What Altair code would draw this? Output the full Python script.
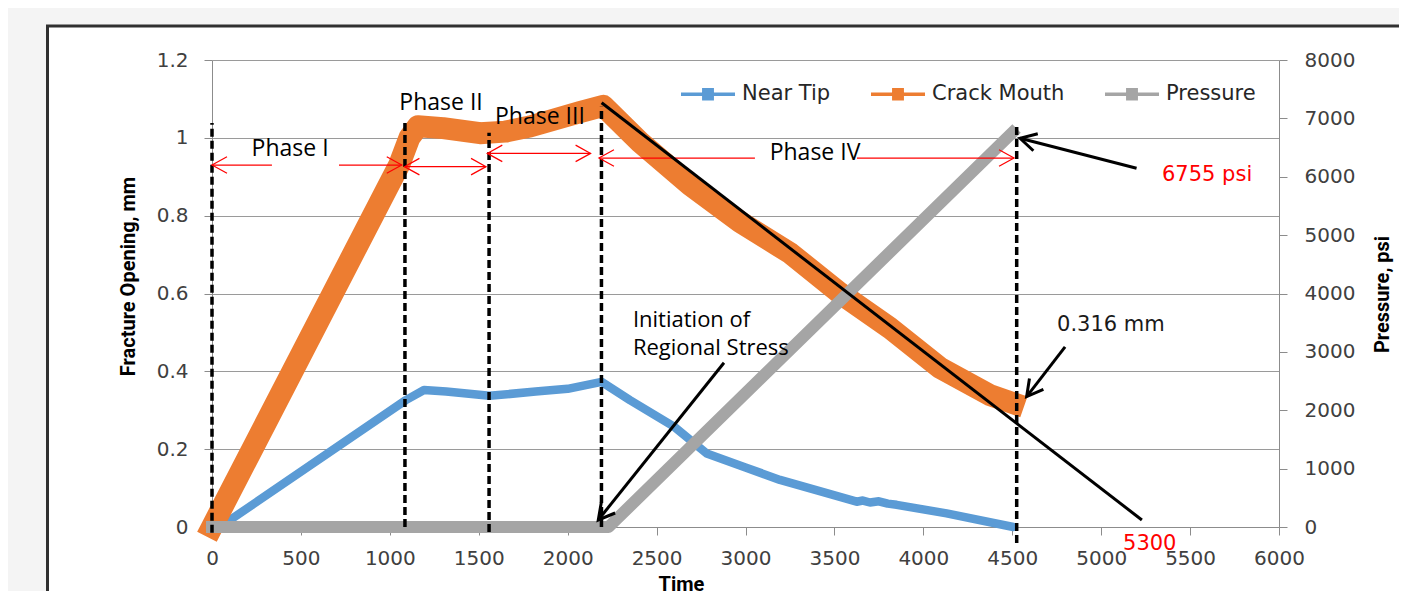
import math
import altair as alt
import pandas as pd

# ---------------- values ----------------
series_names = ["Near Tip", "Crack Mouth", "Pressure"]

tip_t = [0, 60, 1090, 1192, 1317, 1560, 1820, 2000, 2191, 2350, 2598, 2782, 3000,
         3194, 3457, 3625, 3660, 3700, 3750, 3800, 3850, 4131, 4506]
tip_mm = [0.000, 0.005, 0.326, 0.352, 0.348, 0.337, 0.348, 0.355, 0.373, 0.326, 0.258,
          0.189, 0.153, 0.121, 0.087, 0.065, 0.068, 0.063, 0.066, 0.060, 0.057, 0.035, 0.000]

mouth_t = [0, 1052, 1110, 1158, 1300, 1507, 1650, 1788, 2069, 2200, 2407, 2688, 2969,
           3250, 3531, 3813, 4094, 4375, 4507]
mouth_mm = [0.000, 0.930, 1.000, 1.030, 1.025, 1.012, 1.016, 1.029, 1.066, 1.082, 0.989,
            0.879, 0.784, 0.704, 0.601, 0.511, 0.409, 0.339, 0.318]

pres_t = [0, 2230, 4500]
pres_psi = [0, 0, 6755]

time_ticks = [0, 500, 1000, 1500, 2000, 2500, 3000, 3500, 4000, 4500, 5000, 5500, 6000]
mm_ticks = [0, 0.2, 0.4, 0.6, 0.8, 1.0, 1.2]
psi_ticks = [0, 1000, 2000, 3000, 4000, 5000, 6000, 7000, 8000]

# phase boundaries (dashed verticals)
dash_t = [0, 1085, 1558, 2190, 4525]
dash_top = [1.038, 1.048, 1.013, 1.080, 1.038]
dash_bot = [-0.015, 0.000, -0.013, 0.000, -0.041]

# red double arrows
span_t1 = [0, 714, 1082, 1548, 2176, 3627]
span_t2 = [337, 1067, 1541, 2129, 3053, 4510]
span_mm = [0.930, 0.930, 0.926, 0.960, 0.948, 0.948]
head_t = [0, 1067, 1082, 1541, 1548, 2129, 2176, 4510]
head_mm = [0.930, 0.930, 0.926, 0.926, 0.960, 0.960, 0.948, 0.948]
head_dir = ["left", "right", "left", "right", "left", "right", "left", "right"]

phase_labels = ["Phase I", "Phase II", "Phase III", "Phase IV"]
phase_t = [439, 1288, 1844, 3391]
phase_mm = [0.971, 1.090, 1.053, 0.961]

# black trend line and arrows
trend_t = [2191, 5229]
trend_mm = [1.090, 0.018]
arrow_from_t = [5199, 4797, 2879]
arrow_from_mm = [0.922, 0.463, 0.422]
arrow_to_t = [4544, 4581, 2172]
arrow_to_mm = [0.999, 0.335, 0.018]

note_lines = ["Initiation of", "Regional Stress"]
note_t = [2367, 2367]
note_mm = [0.532, 0.460]

value_labels = ["0.316 mm"]
value_t = [4752]
value_mm = [0.519]

red_labels = ["6755 psi", "5300"]
red_t = [5342, 5123]
red_mm = [0.9045, -0.0437]

# ---------------- layout / style ----------------
W, H = 1067, 467
T_MAX, MM_MAX, PSI_MAX = 6000, 1.2, 8000
BLUE, ORANGE, GRAY, RED = "#5B9BD5", "#ED7D31", "#A5A5A5", "#FF0000"
AX, GRID, LBL = "#8c8c8c", "#9a9a9a", "#404040"
TICK_FONT = "DejaVu Sans"
NOTE_FONT = "Open Sans"
TITLE_FONT = "Roboto"

x_scale = alt.Scale(domain=[0, T_MAX], nice=False, zero=False)
mm_scale = alt.Scale(domain=[0, MM_MAX], nice=False, zero=False)
psi_scale = alt.Scale(domain=[0, PSI_MAX], nice=False, zero=False)

common_axis = dict(labelFont=TICK_FONT, labelFontSize=20, labelColor=LBL, tickSize=8,
                   tickColor=AX, tickWidth=1, domainColor=AX, domainWidth=1,
                   labelFlush=False, titleFont=TITLE_FONT, titleFontSize=20,
                   titleFontWeight="bold", titleColor="black")

x_axis = alt.Axis(values=time_ticks, format="d", orient="bottom", grid=False,
                  title="Time", titleX=469, titleY=57, titleAlign="center",
                  titleBaseline="middle", labelPadding=13, **common_axis)
left_axis = alt.Axis(values=mm_ticks, format="~g", orient="left", grid=True,
                     gridColor=GRID, gridWidth=1, title="Fracture Opening, mm",
                     titleX=-84, titleY=216, titleAngle=270, titleAlign="center",
                     titleBaseline="middle", labelPadding=16, **common_axis)
right_axis = alt.Axis(values=psi_ticks, format="d", orient="right", grid=False,
                      title="Pressure, psi", titleX=103, titleY=234, titleAngle=270,
                      titleAlign="center", titleBaseline="middle", labelPadding=17,
                      **common_axis)

# legend symbol: a line with a solid square marker in its middle
LEGEND_SYMBOL = ("M-1,0L1,0"
                 "M-0.22,-0.167L0.22,-0.167M-0.22,-0.056L0.22,-0.056"
                 "M-0.22,0.056L0.22,0.056M-0.22,0.167L0.22,0.167")

legend = alt.Legend(
    title=" ", titleOrient="left", titlePadding=462, titleFontSize=4,
    orient="top-left", offset=5, direction="horizontal",
    symbolType=LEGEND_SYMBOL, symbolSize=2916, symbolStrokeWidth=3.5,
    labelFont=TICK_FONT, labelFontSize=21, labelColor="#262626",
    labelOffset=5, columnPadding=33, labelLimit=400,
)
color_scale = alt.Scale(domain=series_names, range=[BLUE, ORANGE, GRAY])


def X(field):
    return alt.X(field, type="quantitative", scale=x_scale, axis=x_axis)


def Ymm(field):
    return alt.Y(field, type="quantitative", scale=mm_scale, axis=left_axis)


def Ya(field):
    return alt.Y(field, type="quantitative", scale=mm_scale, axis=None)


color_enc = alt.Color("series:N", scale=color_scale, legend=legend)

tip_df = pd.DataFrame({"t": tip_t, "mm": tip_mm, "series": series_names[0]})
mouth_df = pd.DataFrame({"t": mouth_t, "mm": mouth_mm, "series": series_names[1]})
pres_df = pd.DataFrame({"t": pres_t, "psi": pres_psi, "series": series_names[2]})

tip_line = alt.Chart(tip_df).mark_line(strokeWidth=8.5, strokeCap="round", strokeJoin="round").encode(
    x=X("t"), y=Ymm("mm"), color=color_enc, order="t:Q")
mouth_line = alt.Chart(mouth_df).mark_line(strokeWidth=22, strokeCap="square", strokeJoin="round").encode(
    x=X("t"), y=Ymm("mm"), color=color_enc, order="t:Q")
layer_mm = alt.layer(tip_line, mouth_line)

pres_line = alt.Chart(pres_df).mark_line(strokeWidth=12, strokeCap="square", strokeJoin="round").encode(
    x=X("t"),
    y=alt.Y("psi", type="quantitative", scale=psi_scale, axis=right_axis),
    color=color_enc, order="t:Q")

# ---------------- annotations (same mm scale, no axis of their own) ----------------
one = pd.DataFrame({"k": [0]})
bg_top = alt.Chart(one).mark_rect(color="#f4f4f4").encode(
    x=alt.value(-210), x2=alt.value(1250), y=alt.value(-60), y2=alt.value(-35))
bg_left = alt.Chart(one).mark_rect(color="#f4f4f4").encode(
    x=alt.value(-210), x2=alt.value(-166), y=alt.value(-60), y2=alt.value(640))
frame = alt.Chart(one).mark_rect(filled=False, color="#303030", strokeWidth=3).encode(
    x=alt.value(-164.5), x2=alt.value(1300), y=alt.value(-34), y2=alt.value(640))

dash_df = pd.DataFrame({"t": dash_t, "top": dash_top, "bot": dash_bot})
dashes = alt.Chart(dash_df).mark_rule(color="black", strokeWidth=3.5, strokeDash=[8, 4]).encode(
    x=X("t"), y=Ya("bot"), y2=alt.Y2("top"))

span_df = pd.DataFrame({"t1": span_t1, "t2": span_t2, "mm": span_mm})
spans = alt.Chart(span_df).mark_rule(color=RED, strokeWidth=1.2).encode(
    x=X("t1"), x2=alt.X2("t2"), y=Ya("mm"))

CHEVRON = "M1,-0.55L0,0L1,0.55"
head_df = pd.DataFrame({"t": head_t, "mm": head_mm, "dir": head_dir})
red_heads = alt.Chart(head_df).transform_calculate(
    ang="datum.dir === 'right' ? 180 : 0"
).mark_point(shape=CHEVRON, filled=False, size=900, color=RED, strokeWidth=1.2, opacity=1).encode(
    x=X("t"), y=Ya("mm"), angle=alt.Angle("ang:Q", scale=None))

trend_df = pd.DataFrame({"t1": [trend_t[0]], "m1": [trend_mm[0]], "t2": [trend_t[1]], "m2": [trend_mm[1]]})
trend = alt.Chart(trend_df).mark_rule(color="black", strokeWidth=3).encode(
    x=X("t1"), y=Ya("m1"), x2=alt.X2("t2"), y2=alt.Y2("m2"))

px_t = W / T_MAX
px_mm = H / MM_MAX
angles = []
for a, b, c, d in zip(arrow_from_t, arrow_from_mm, arrow_to_t, arrow_to_mm):
    dx = (c - a) * px_t
    dy = -(d - b) * px_mm
    angles.append((math.degrees(math.atan2(dy, dx)) - 180) % 360)

arrow_df = pd.DataFrame({"t1": arrow_from_t, "m1": arrow_from_mm, "t2": arrow_to_t,
                         "m2": arrow_to_mm, "ang": angles})
shafts = alt.Chart(arrow_df).mark_rule(color="black", strokeWidth=3).encode(
    x=X("t1"), y=Ya("m1"), x2=alt.X2("t2"), y2=alt.Y2("m2"))
black_heads = alt.Chart(arrow_df).mark_point(
    shape=CHEVRON, filled=False, size=1024, color="black", strokeWidth=3, opacity=1,
    strokeJoin="miter").encode(x=X("t2"), y=Ya("m2"), angle=alt.Angle("ang:Q", scale=None))

phase_df = pd.DataFrame({"t": phase_t, "mm": phase_mm, "txt": phase_labels})
phase_txt = alt.Chart(phase_df).mark_text(font=NOTE_FONT, fontSize=23, align="center",
                                          baseline="middle", color="black").encode(
    x=X("t"), y=Ya("mm"), text="txt:N")

note_df = pd.DataFrame({"t": note_t, "mm": note_mm, "txt": note_lines})
note_txt = alt.Chart(note_df).mark_text(font=NOTE_FONT, fontSize=22, align="left",
                                        baseline="middle", color="black").encode(
    x=X("t"), y=Ya("mm"), text="txt:N")

val_df = pd.DataFrame({"t": value_t, "mm": value_mm, "txt": value_labels})
val_txt = alt.Chart(val_df).mark_text(font=TICK_FONT, fontSize=21, align="left",
                                      baseline="middle", color="#1a1a1a").encode(
    x=X("t"), y=Ya("mm"), text="txt:N")

red_df = pd.DataFrame({"t": red_t, "mm": red_mm, "txt": red_labels})
red_txt = alt.Chart(red_df).mark_text(font=TICK_FONT, fontSize=21, align="left",
                                      baseline="middle", color=RED).encode(
    x=X("t"), y=Ya("mm"), text="txt:N")

layer_notes = alt.layer(bg_top, bg_left, frame, dashes, spans, red_heads, trend,
                        shafts, black_heads, phase_txt, note_txt, val_txt, red_txt)

chart = alt.layer(layer_mm, pres_line, layer_notes).resolve_scale(
    y="independent"
).properties(
    width=W, height=H,
    autosize=alt.AutoSizeParams(type="none"),
    padding={"left": 204, "top": 52, "right": 120, "bottom": 64},
).configure_view(stroke=None)

chart.save("out.html", embed_options={"renderer": "svg", "actions": False})
